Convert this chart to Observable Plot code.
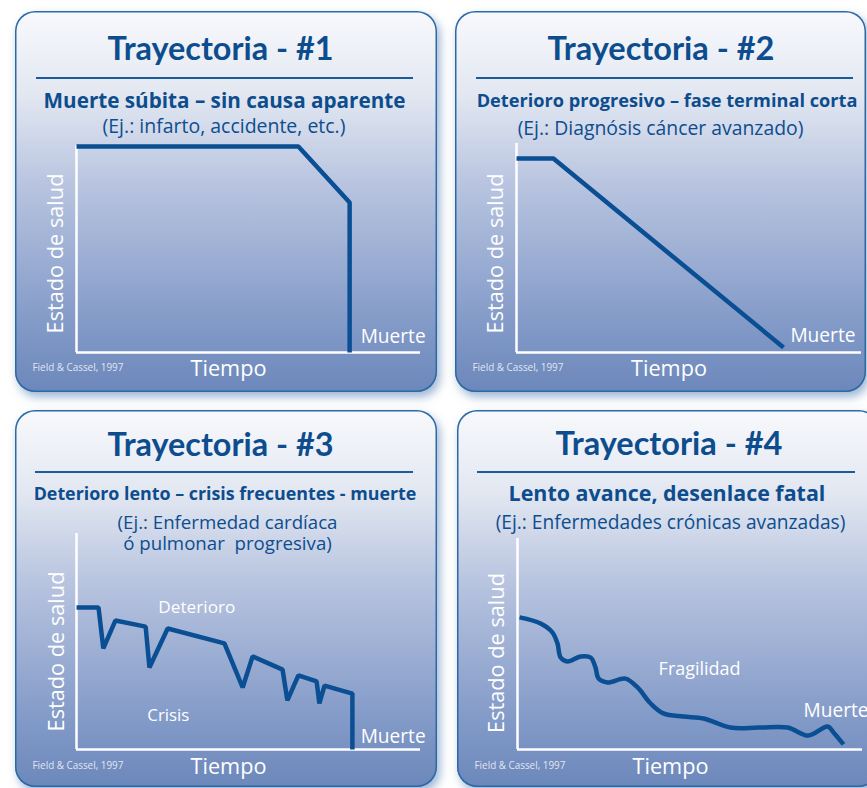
<!DOCTYPE html>
<html><head><meta charset="utf-8">
<script src="https://cdn.jsdelivr.net/npm/d3@7"></script>
<script src="https://cdn.jsdelivr.net/npm/@observablehq/plot@0.6"></script>
<style>
html,body{margin:0;padding:0;background:#fff;}
#page{position:relative;width:867px;height:788px;overflow:hidden;background:#fff;}
.panel{position:absolute;box-sizing:border-box;border-radius:20px;
  background:linear-gradient(to bottom,#f8f9fc 0%,#e2e7f1 22%,#b9c5e0 45%,#97aad1 68%,#7d96c5 86%,#6c87ba 100%);
  box-shadow:inset 0 0 0 1.5px #2c6aa7, 3px 5px 10px rgba(60,110,170,0.5);overflow:hidden;}
.panel svg{position:absolute;left:0;top:0;}
.rule{position:absolute;height:2px;background:#1b5a9b;}
</style></head><body><div id="page"></div>
<script>
// ---- data ----
const titulos = ["Trayectoria - #1", "Trayectoria - #2", "Trayectoria - #3", "Trayectoria - #4"];
const subtitulos = [
  "Muerte súbita – sin causa aparente",
  "Deterioro progresivo – fase terminal corta",
  "Deterioro lento – crisis frecuentes - muerte",
  "Lento avance, desenlace fatal"
];
const ejemplos = [
  ["(Ej.: infarto, accidente, etc.)"],
  ["(Ej.: Diagnósis cáncer avanzado)"],
  ["(Ej.: Enfermedad cardíaca", "ó pulmonar  progresiva)"],
  ["(Ej.: Enfermedades crónicas avanzadas)"]
];
const ejeY = "Estado de salud";
const ejeX = "Tiempo";
const fuente = "Field & Cassel, 1997";

const t1 = [0, 64.5, 79.4, 79.4];
const s1 = [99.5, 99.5, 72.5, 0];
const t2 = [0, 10.7, 77.4];
const s2 = [92.8, 92.8, 2.4];
const t3 = [0, 6.4, 7.8, 11.3, 20.1, 21.2, 26.5, 43.0, 48.3, 51.2, 59.9, 61.3, 64.5, 69.8, 70.6, 72.1, 80.2, 80.2];
const s3 = [65.7, 65.7, 46.8, 59.7, 56.9, 38.0, 56.0, 49.1, 28.7, 43.1, 37.0, 22.7, 34.3, 31.5, 21.3, 29.6, 25.9, 0];
const t4 = [0.6, 6.7, 10.1, 11.6, 12.5, 14.5, 18.3, 21.2, 22.6, 23.5, 26.1, 31.3, 34.8, 38.6, 42.3, 48.1, 53.9, 61.7, 70.0, 78.3, 84.3, 89.9, 91.6, 94.5];
const s4 = [62.6, 59.7, 55.5, 50.2, 43.6, 41.7, 44.1, 43.6, 38.9, 33.6, 31.8, 33.6, 29.4, 21.8, 17.1, 15.6, 14.7, 10.4, 10.4, 10.4, 6.6, 10.9, 8.1, 2.4];

const notas = [
  [{t: "Muerte", x: 82.6, y: 4.8, w: 65}],
  [{t: "Muerte", x: 79.4, y: 4.8, w: 65}],
  [{t: "Deterioro", x: 23.8, y: 63.0, w: 77}, {t: "Crisis", x: 20.6, y: 13.4, w: 42}, {t: "Muerte", x: 82.6, y: 3.2, w: 65}],
  [{t: "Fragilidad", x: 40.9, y: 35.1, w: 82}, {t: "Muerte", x: 82.9, y: 15.2, w: 65}]
];

// ---- layout ----
const layout = [
  {left: 15, top: 11, w: 422, h: 381, ml: 61, mr: 17, mt: 134, mb: 40, curve: "linear",
   title: {cx: 205, y: 48, w: 226}, rule: {x1: 21, x2: 398, y: 66}, sub: {cx: 209, y: 96, w: 362},
   ej: {cx: 208.5, y: 121, w: 243, lh: 22}, yl: {dx: -20, dy: 4.5}, xl: {dx: 152, dy: 23}, src: {dx: -44, dy: 18}},
  {left: 455, top: 11, w: 411, h: 381, ml: 61, mr: 5, mt: 132, mb: 40, curve: "linear",
   title: {cx: 205.5, y: 48, w: 227}, rule: {x1: 21, x2: 398, y: 66}, sub: {cx: 211.5, y: 95, w: 381},
   ej: {cx: 205, y: 123, w: 286, lh: 22}, yl: {dx: -20, dy: 5.5}, xl: {dx: 152.5, dy: 23}, src: {dx: -44, dy: 18}},
  {left: 15, top: 410, w: 422, h: 377, ml: 61, mr: 17, mt: 123, mb: 38, curve: "linear",
   title: {cx: 205, y: 45.5, w: 226}, rule: {x1: 20, x2: 398, y: 61}, sub: {cx: 209.5, y: 89, w: 383},
   ej: {cx: 212, y: 118, w: 220, lh: 21.7}, yl: {dx: -19, dy: 10}, xl: {dx: 152, dy: 24}, src: {dx: -44, dy: 19}},
  {left: 457, top: 410, w: 422, h: 377, ml: 60, mr: 17, mt: 128, mb: 38, curve: "catmull-rom",
   title: {cx: 211.5, y: 44.5, w: 227}, rule: {x1: 20, x2: 398, y: 61}, sub: {cx: 209.5, y: 90, w: 317},
   ej: {cx: 213, y: 118, w: 350, lh: 22}, yl: {dx: -20, dy: 9}, xl: {dx: 153, dy: 24}, src: {dx: -43, dy: 19}}
];
const series = [[t1, s1], [t2, s2], [t3, s3], [t4, s4]];

const BLUE = "#0d4d8e";
const LINE = "#0a4f94";
const F_TITLE = "Lato";
const W_TITLE = 700;
const F_SUB = "'Open Sans'";
const F_REG = "'Open Sans'";

const ctx = document.createElement("canvas").getContext("2d");
function fit(text, weight, family, width) {
  ctx.font = `${weight} 100px ${family}`;
  return 100 * width / ctx.measureText(text).width;
}

const page = document.getElementById("page");
layout.forEach((L, i) => {
  const div = document.createElement("div");
  div.className = "panel";
  Object.assign(div.style, {left: L.left + "px", top: L.top + "px", width: L.w + "px", height: L.h + "px"});
  page.appendChild(div);

  const [T, S] = series[i];
  const data = T.map((t, k) => ({t, s: S[k]}));
  const top = (cx, y) => ({frameAnchor: "top-left", dx: cx - L.ml, dy: y - L.mt});
  const bl = (o) => ({frameAnchor: "bottom-left", dx: o.dx, dy: o.dy});

  const titleSize = fit(titulos[i], W_TITLE, F_TITLE, L.title.w);
  const subSize = fit(subtitulos[i], 700, F_SUB, L.sub.w);
  const ejSize = fit(ejemplos[i][0], 400, F_REG, L.ej.w);
  const ylSize = fit(ejeY, 400, F_REG, 160);
  const xlSize = fit(ejeX, 400, F_REG, 76);
  const srcSize = fit(fuente, 400, F_REG, 91);
  const nLines = ejemplos[i].length;

  const marks = [
    Plot.ruleX([0], {stroke: "white", strokeWidth: 2.5}),
    Plot.ruleY([0], {stroke: "white", strokeWidth: 2.5}),
    Plot.line(data, {x: "t", y: "s", stroke: LINE, strokeWidth: 4.5, strokeLinejoin: i === 3 ? "round" : "miter",
      strokeLinecap: "butt", curve: L.curve}),
    Plot.text([titulos[i]], {...top(L.title.cx, L.title.y), text: d => d, textAnchor: "middle", lineAnchor: "bottom",
      fontSize: titleSize, fontWeight: W_TITLE, fontFamily: F_TITLE, fill: BLUE}),
    Plot.text([subtitulos[i]], {...top(L.sub.cx, L.sub.y), text: d => d, textAnchor: "middle", lineAnchor: "bottom",
      fontSize: subSize, fontWeight: 700, fontFamily: F_SUB, fill: BLUE}),
    Plot.text([ejemplos[i].join("\n")], {...top(L.ej.cx, L.ej.y + (nLines - 1) * L.ej.lh), text: d => d,
      textAnchor: "middle", lineAnchor: "bottom", lineHeight: L.ej.lh / ejSize,
      fontSize: ejSize, fontFamily: F_REG, fill: BLUE}),
    Plot.text([ejeY], {frameAnchor: "left", dx: L.yl.dx, dy: L.yl.dy, text: d => d, rotate: -90, textAnchor: "middle",
      lineAnchor: "middle", fontSize: ylSize, fontFamily: F_REG, fill: "white"}),
    Plot.text([ejeX], {...bl(L.xl), text: d => d, textAnchor: "middle", lineAnchor: "bottom",
      fontSize: xlSize, fontFamily: F_REG, fill: "white"}),
    Plot.text([fuente], {...bl(L.src), text: d => d, textAnchor: "start", lineAnchor: "bottom",
      fontSize: srcSize, fontFamily: F_REG, fill: "white", fillOpacity: 0.8}),
    ...notas[i].map(n => Plot.text([n], {x: "x", y: "y", text: "t", textAnchor: "start", lineAnchor: "bottom",
      fontSize: fit(n.t, 400, F_REG, n.w), fontFamily: F_REG, fill: "white"}))
  ];

  const svg = Plot.plot({
    width: L.w, height: L.h,
    marginLeft: L.ml, marginRight: L.mr, marginTop: L.mt, marginBottom: L.mb,
    x: {domain: [0, 100], axis: null},
    y: {domain: [0, 100], axis: null},
    style: {background: "transparent", overflow: "visible"},
    marks
  });
  div.appendChild(svg);

  const r = document.createElement("div");
  r.className = "rule";
  Object.assign(r.style, {left: L.rule.x1 + "px", top: L.rule.y + "px", width: (L.rule.x2 - L.rule.x1) + "px"});
  div.appendChild(r);
});
</script>
</body></html>
